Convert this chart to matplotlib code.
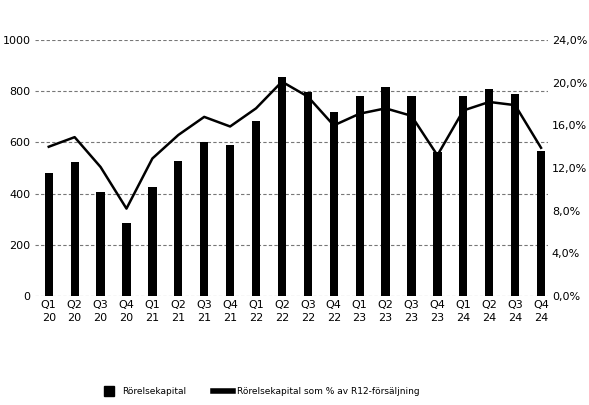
import matplotlib.pyplot as plt
from matplotlib.lines import Line2D

plt.rcParams['font.family'] = ['DejaVu Sans']

quarters = ["Q1\n20", "Q2\n20", "Q3\n20", "Q4\n20",
            "Q1\n21", "Q2\n21", "Q3\n21", "Q4\n21",
            "Q1\n22", "Q2\n22", "Q3\n22", "Q4\n22",
            "Q1\n23", "Q2\n23", "Q3\n23", "Q4\n23",
            "Q1\n24", "Q2\n24", "Q3\n24", "Q4\n24"]
rorelsekapital = [482, 523, 406, 285, 426, 527, 601, 590, 683, 855,
                  797, 719, 781, 816, 781, 562, 781, 808, 789, 566]
andel_pct = [14.0, 14.9, 12.1, 8.2, 12.9, 15.1, 16.8, 15.9, 17.6, 20.1,
             18.7, 16.0, 17.1, 17.6, 16.9, 13.2, 17.4, 18.2, 17.9, 13.9]
left_ticks = [0, 200, 400, 600, 800, 1000]
right_ticks = [0, 4, 8, 12, 16, 20, 24]

fig = plt.figure(figsize=(5.89, 4.05), dpi=100)
ax = fig.add_axes([0.059, 0.269, 0.871, 0.632])
x = range(len(quarters))

for t in left_ticks:
    ax.axhline(t, color="#777777", lw=0.8, ls=(0, (3, 2)), zorder=0)
ax.bar(x, rorelsekapital, width=0.32, color="black", zorder=2)
ax.set_ylim(0, 1000)
ax.set_xlim(-0.54, 19.26)
ax.set_yticks(left_ticks)
ax.set_xticks(list(x))
ax.set_xticklabels(quarters, fontsize=8, linespacing=1.3)
ax.tick_params(length=0, labelsize=8, pad=3)
for s in ax.spines.values():
    s.set_visible(False)

ax2 = ax.twinx()
ax2.plot(x, andel_pct, color="black", lw=1.8, zorder=3)
ax2.set_ylim(0, 24)
ax2.set_yticks(right_ticks)
ax2.set_yticklabels([f"{v:.1f}%".replace(".", ",") for v in right_ticks])
ax2.tick_params(length=0, labelsize=8, pad=3)
for s in ax2.spines.values():
    s.set_visible(False)

handles = [Line2D([], [], color="black", marker="s", markersize=7, ls="none"),
           Line2D([], [], color="black", lw=4)]
fig.legend(handles, ["Rörelsekapital", "Rörelsekapital som % av R12-försäljning"],
           loc="center", bbox_to_anchor=(0.44, 0.033), ncol=2, frameon=False,
           fontsize=6.5, handlelength=2.2, handletextpad=0.4,
           columnspacing=3.0)

fig.savefig("out.png", dpi=100)
